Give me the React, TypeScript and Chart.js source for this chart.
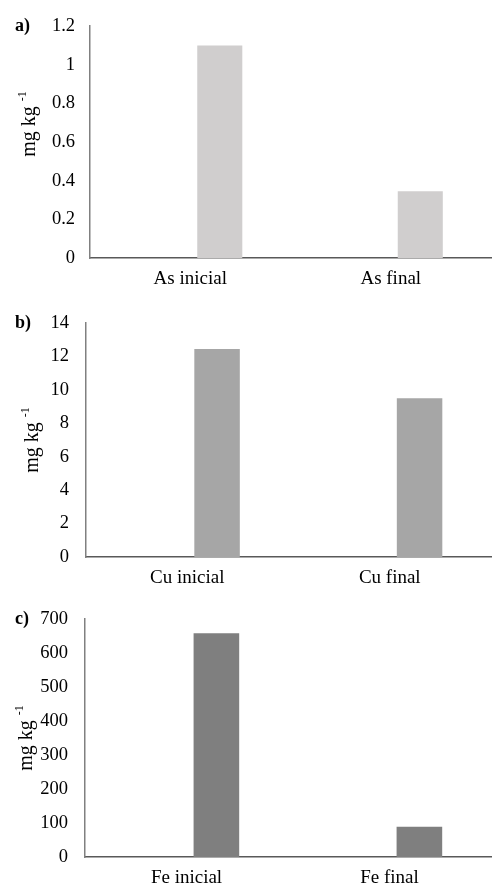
import React, { useEffect, useRef } from "react";
import { Chart, registerables } from "chart.js";

Chart.register(...registerables);

const FONT = '"Liberation Serif", "Times New Roman", serif';

// ---- data ----
const categoriesA = ["As inicial", "As final"];
const valuesA = [1.1, 0.345];
const ticksA = ["0", "0.2", "0.4", "0.6", "0.8", "1", "1.2"];

const categoriesB = ["Cu inicial", "Cu final"];
const valuesB = [12.45, 9.5];
const ticksB = ["0", "2", "4", "6", "8", "10", "12", "14"];

const categoriesC = ["Fe inicial", "Fe final"];
const valuesC = [658, 89];
const ticksC = ["0", "100", "200", "300", "400", "500", "600", "700"];

const emptySeries = [null, null];
const panelLabels = ["a)", "b)", "c)"];
const yTitleMain = "mg kg";
const yTitleSup = "-1";

type PanelCfg = {
  categories: string[];
  values: number[];
  ticks: string[];
  max: number;
  step: number;
  color: string;
  label: string;
  top: number;
  height: number;
  padTop: number;
  xAxisH: number;
  yAxisW: number;
  tickPad: number;
  titleX: number;
  titleDy: number;
};

const panels: PanelCfg[] = [
  {
    categories: categoriesA, values: valuesA, ticks: ticksA, max: 1.2, step: 0.2,
    color: "#D0CECE", label: panelLabels[0],
    top: 0, height: 295, padTop: 22, xAxisH: 37, yAxisW: 90, tickPad: 15,
    titleX: 30, titleDy: -18,
  },
  {
    categories: categoriesB, values: valuesB, ticks: ticksB, max: 14, step: 2,
    color: "#A6A6A6", label: panelLabels[1],
    top: 295, height: 295, padTop: 27, xAxisH: 33, yAxisW: 86, tickPad: 17,
    titleX: 33, titleDy: 0,
  },
  {
    categories: categoriesC, values: valuesC, ticks: ticksC, max: 700, step: 100,
    color: "#7F7F7F", label: panelLabels[2],
    top: 590, height: 297, padTop: 29, xAxisH: 30, yAxisW: 85, tickPad: 17,
    titleX: 27, titleDy: 0,
  },
];

function Panel({ cfg }: { cfg: PanelCfg }) {
  const ref = useRef<HTMLCanvasElement | null>(null);

  useEffect(() => {
    if (!ref.current) return;
    const annot = {
      id: "annot",
      afterDraw(chart: any) {
        const ctx = chart.ctx as CanvasRenderingContext2D;
        const area = chart.chartArea;
        ctx.save();
        // panel label
        ctx.fillStyle = "#000";
        ctx.font = `bold 18px ${FONT}`;
        ctx.textAlign = "left";
        ctx.textBaseline = "middle";
        ctx.fillText(cfg.label, 15, area.top);
        // y title with superscript
        const cy = (area.top + area.bottom) / 2 + cfg.titleDy;
        ctx.translate(cfg.titleX, cy);
        ctx.rotate(-Math.PI / 2);
        ctx.font = `20px ${FONT}`;
        const wMain = ctx.measureText(yTitleMain + " ").width;
        ctx.font = `12px ${FONT}`;
        const wSup = ctx.measureText(yTitleSup).width;
        const total = wMain + wSup;
        ctx.textBaseline = "middle";
        ctx.font = `20px ${FONT}`;
        ctx.fillText(yTitleMain, -total / 2, 0);
        ctx.font = `12px ${FONT}`;
        ctx.fillText(yTitleSup, -total / 2 + wMain, -7);
        ctx.restore();
      },
    };

    const chart = new Chart(ref.current, {
      type: "bar",
      data: {
        labels: cfg.categories,
        datasets: [
          { label: "", data: emptySeries as any, backgroundColor: "rgba(0,0,0,0)" },
          { label: "", data: cfg.values, backgroundColor: cfg.color },
        ],
      },
      options: {
        responsive: false,
        animation: false,
        layout: { padding: { top: cfg.padTop, left: 0, right: 1, bottom: 0 } },
        plugins: { legend: { display: false }, tooltip: { enabled: false }, title: { display: false } },
        datasets: { bar: { categoryPercentage: 0.589, barPercentage: 0.763 } },
        scales: {
          x: {
            grid: { display: false, drawTicks: false },
            border: { display: true, color: "#595959", width: 1.5 },
            ticks: { color: "#000", font: { family: FONT, size: 19 }, padding: 10, maxRotation: 0 },
            afterFit: (s: any) => { s.height = cfg.xAxisH; },
          },
          y: {
            min: 0,
            max: cfg.max,
            grid: { display: false, drawTicks: false },
            border: { display: true, color: "#808080", width: 1.5 },
            ticks: {
              stepSize: cfg.step,
              color: "#000",
              font: { family: FONT, size: 18.5 },
              padding: cfg.tickPad,
              callback: (_v: any, i: number) => cfg.ticks[i],
            },
            afterFit: (s: any) => { s.width = cfg.yAxisW; },
          },
        },
      } as any,
      plugins: [annot],
    });
    return () => chart.destroy();
  }, [cfg]);

  return (
    <div style={{ position: "absolute", left: 0, top: cfg.top, width: 492, height: cfg.height }}>
      <canvas ref={ref} width={492} height={cfg.height} style={{ width: 492, height: cfg.height, display: "block" }} />
    </div>
  );
}

export default function App() {
  return (
    <div style={{ position: "absolute", left: 0, top: 0, width: 492, height: 887, background: "#fff" }}>
      {panels.map((p, i) => (
        <Panel key={i} cfg={p} />
      ))}
    </div>
  );
}
